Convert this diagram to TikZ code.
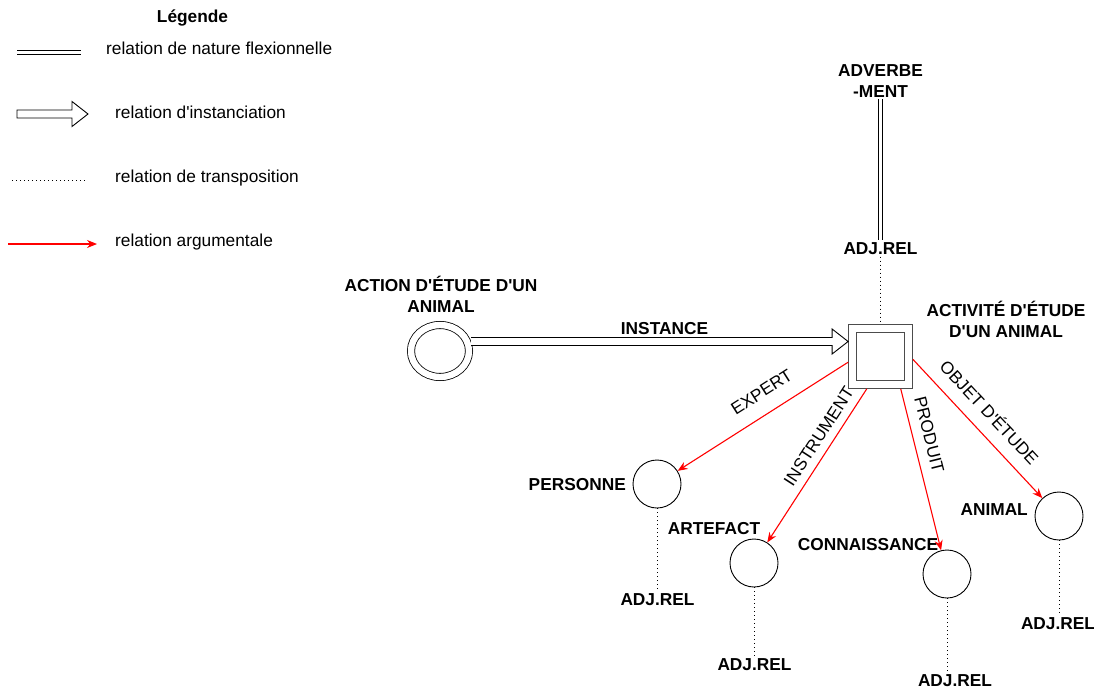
\documentclass[tikz,border=0pt]{standalone}
\usepackage{fontspec}
\setmainfont{Liberation Sans}
\usetikzlibrary{arrows.meta,positioning,calc,shapes.geometric}

\begin{document}
\fontsize{17.3}{20.5}\selectfont
\begin{tikzpicture}[
  x=1pt,y=-1pt,
  >={Stealth[length=10pt,width=8pt]},
  lbl/.style={font=\bfseries,inner sep=2pt,align=center},
  legtxt/.style={anchor=base west,inner sep=0pt},
  entity/.style={draw,circle,line width=0.9pt,minimum size=48pt,inner sep=0pt},
  predicate/.style={draw,ellipse,double,double distance=6.4pt,line width=0.8pt,minimum width=58pt,minimum height=52pt,inner sep=0pt,outer sep=4pt},
  activity/.style={draw=black!70,rectangle,double,double distance=7pt,line width=0.9pt,minimum size=56pt,inner sep=0pt,outer sep=4.4pt},
  flex/.style={draw,double,double distance=3pt,line width=1pt},
  transp/.style={draw,line width=1pt,dash pattern=on 1pt off 3pt},
  arg/.style={draw=red,line width=1.1pt,->},
  instarrow/.style={draw,line width=0.9pt,fill=white,line join=miter},
  role/.style={sloped,inner sep=3pt}
]
\useasboundingbox (0,0) rectangle (1094,690);

% legend
\node[lbl,anchor=base] (legtitle) at (192.5,22.2) {Légende};

\coordinate (flexa) at (17,52.5);
\coordinate (flexb) at (81,52.5);
\draw[flex] (flexa) -- (flexb);
\node[legtxt] (flextxt) at (106,55) {relation de nature flexionnelle};

\coordinate (lgtip) at (88,114);
\draw[instarrow] ($(lgtip)+(-71,-4)$) -- ($(lgtip)+(-16,-4)$) -- ($(lgtip)+(-16,-12.5)$) -- (lgtip)
  -- ($(lgtip)+(-16,12.5)$) -- ($(lgtip)+(-16,4)$) -- ($(lgtip)+(-71,4)$) -- cycle;
\node[legtxt] (insttxt) at (115,119) {relation d\textquotesingle instanciation};

\coordinate (transpa) at (12,180);
\coordinate (transpb) at (85,180);
\draw[transp] (transpa) -- (transpb);
\node[legtxt] (transptxt) at (115,182.5) {relation de transposition};

\coordinate (arga) at (8,244);
\coordinate (argb) at (97,244);
\draw[arg] (arga) -- (argb);
\node[legtxt] (argtxt) at (115,246) {relation argumentale};

% predicate and activity
\node[predicate] (act) at (440,351) {};
\node[lbl] (actlbl) at (441,294.4) {ACTION D\textquotesingle ÉTUDE D\textquotesingle UN\\ANIMAL};

\node[activity] (activ) at (880.5,356.5) {};
\node[lbl] (activlbl) at (1006,319.5) {ACTIVITÉ D\textquotesingle ÉTUDE\\D\textquotesingle UN ANIMAL};

\node[lbl] (adv) at (880.5,81) {ADVERBE\\-MENT};
\node[lbl,anchor=base] (advadj) at (880.5,254.2) {ADJ.REL};

% arguments
\node[entity] (pers) at (657,484) {};
\node[lbl,anchor=base east] (perslbl) at (628,490.2) {PERSONNE};
\node[lbl,anchor=base] (persadj) at (657.5,605.5) {ADJ.REL};

\node[entity] (artf) at (754,563) {};
\node[lbl,anchor=base] (artflbl) at (714,534.2) {ARTEFACT};
\node[lbl,anchor=base] (artfadj) at (754.5,670) {ADJ.REL};

\node[entity] (conn) at (947,574) {};
\node[lbl,anchor=base] (connlbl) at (868,550.2) {CONNAISSANCE};
\node[lbl,anchor=base] (connadj) at (955,686) {ADJ.REL};

\node[entity] (anim) at (1059,516) {};
\node[lbl,anchor=base east] (animlbl) at (1030,515.2) {ANIMAL};
\node[lbl,anchor=base] (animadj) at (1058,629) {ADJ.REL};

% instance arrow
\coordinate (itip) at ($(activ.west)+(0,-15)$);
\coordinate (itail) at (act.east |- itip);
\draw[instarrow] ($(itail)+(-2,-4)$) -- ($(itip)+(-16,-4)$) -- ($(itip)+(-16,-12.5)$) -- (itip)
  -- ($(itip)+(-16,12.5)$) -- ($(itip)+(-16,4)$) -- ($(itail)+(-2,4)$);
\node[lbl] (instlbl) at (664.5,328.3) {INSTANCE};

% flexional and transposition links
\draw[flex] (adv) -- (advadj);
\draw[transp] (advadj) -- (advadj |- activ.north);
\draw[transp] (pers) -- (pers |- persadj.north);
\draw[transp] (artf) -- (artf |- artfadj.north);
\draw[transp] (conn) -- (conn |- connadj.north);
\draw[transp] (anim) -- (anim |- animadj.north);

% argumental links
\draw[arg] (activ.190) -- node[role,above=11.8pt,pos=0.44] (explbl) {EXPERT} (pers);
\draw[arg] (activ.247) -- node[role,above=4.8pt,pos=0.36] (instrlbl) {INSTRUMENT} (artf);
\draw[arg] (activ.302) -- node[role,above=6.8pt,pos=0.31] (prodlbl) {PRODUIT} (conn);
\draw[arg] (activ.355) -- node[role,above=9.4pt,pos=0.48] (objlbl) {OBJET D\textquotesingle ÉTUDE} (anim);
\end{tikzpicture}
\end{document}
